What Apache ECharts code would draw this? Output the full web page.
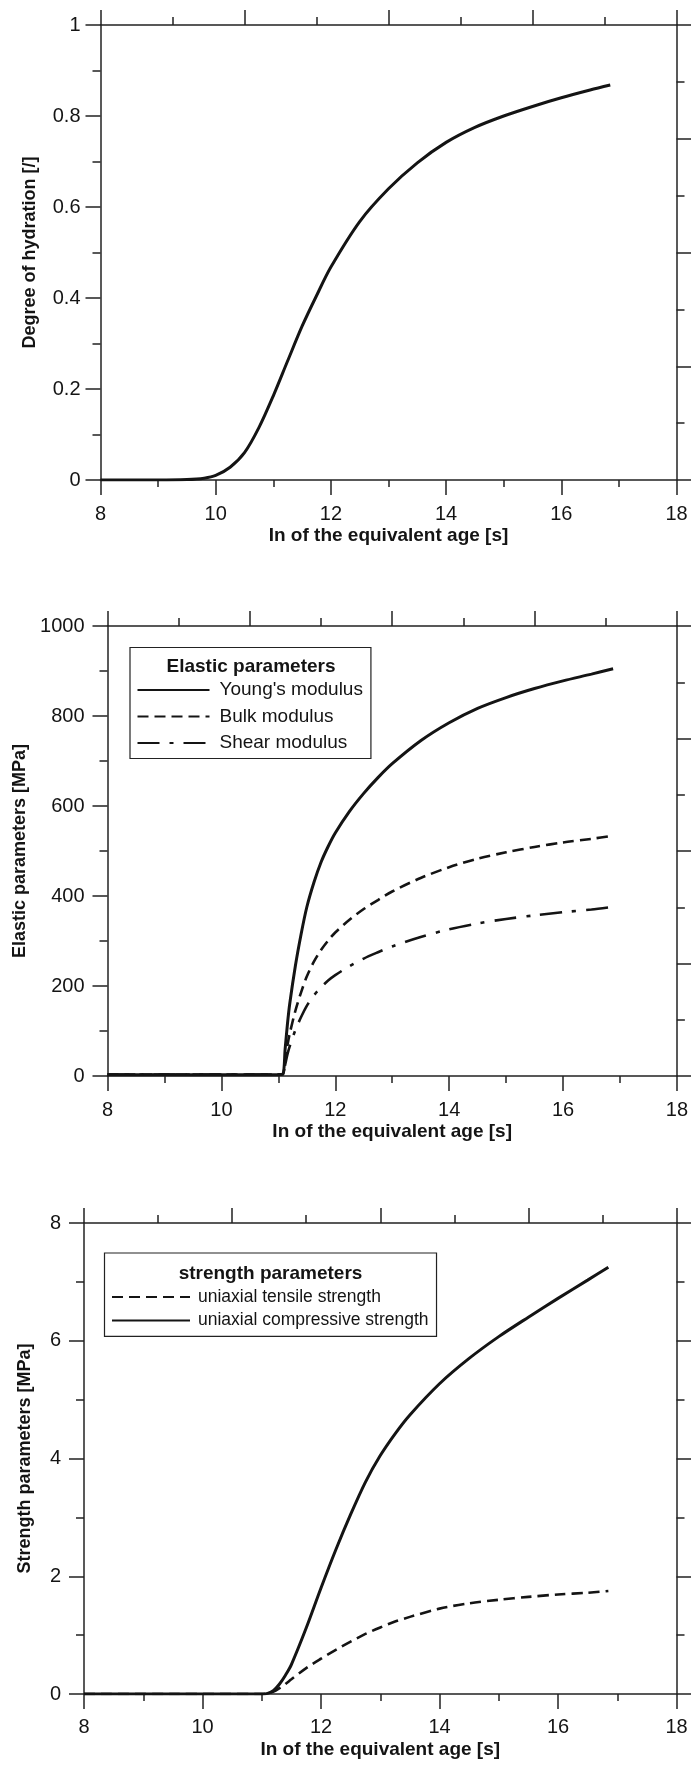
<!DOCTYPE html>
<html><head><meta charset="utf-8">
<script src="https://cdn.jsdelivr.net/npm/echarts@6/dist/echarts.min.js"></script>
<style>html,body{margin:0;padding:0;background:#fff}#c{width:691px;height:1765px}</style>
</head><body><div id="c"></div><script>
// ---------- data ----------
const xTicks = [8, 10, 12, 14, 16, 18];
const auxTicks = [0, 2, 4, 6, 8];            // unlabeled top / right scales
const hydTicks = [0, 0.2, 0.4, 0.6, 0.8, 1];
const elaTicks = [0, 200, 400, 600, 800, 1000];
const strTicks = [0, 2, 4, 6, 8];

const hydX = [8, 9, 9.5, 9.8, 10, 10.25, 10.5, 10.75, 11, 11.25, 11.5, 11.75, 12, 12.5, 13, 13.5, 14, 14.5, 15, 15.5, 16, 16.5, 16.85];
const hydY = [0, 0, 0.001, 0.004, 0.01, 0.028, 0.06, 0.115, 0.185, 0.262, 0.338, 0.405, 0.468, 0.568, 0.64, 0.697, 0.742, 0.775, 0.8, 0.821, 0.84, 0.857, 0.868];

const elaX = [8, 9.5, 11, 11.08, 11.12, 11.16, 11.2, 11.3, 11.4, 11.5, 11.625, 11.75, 11.875, 12, 12.25, 12.5, 12.75, 13, 13.5, 14, 14.5, 15, 15.5, 16, 16.5, 16.88];
const youngY = [3, 3, 3, 4, 60, 115, 160, 245, 315, 375, 430, 475, 510, 540, 588, 628, 663, 694, 745, 785, 817, 841, 861, 878, 893, 905];
const bulkY  = [3, 3, 3, 4, 35, 68, 94, 145, 186, 221, 254, 280, 301, 319, 347, 371, 391, 410, 440, 464, 483, 497, 509, 519, 527, 534];
const shearY = [3, 3, 3, 4, 25, 48, 66, 102, 131, 156, 179, 197, 212, 224, 244, 261, 275, 288, 309, 326, 339, 349, 357, 364, 370, 376];

const strX = [8, 9.5, 11, 11.1, 11.2, 11.3, 11.4, 11.5, 11.75, 12, 12.25, 12.5, 12.75, 13, 13.25, 13.5, 14, 14.5, 15, 15.5, 16, 16.5, 16.85];
const compY = [0, 0, 0, 0.01, 0.06, 0.17, 0.32, 0.5, 1.12, 1.8, 2.45, 3.05, 3.6, 4.05, 4.42, 4.74, 5.27, 5.7, 6.07, 6.4, 6.72, 7.03, 7.25];
const tensY = [0, 0, 0, 0.01, 0.04, 0.1, 0.17, 0.25, 0.44, 0.6, 0.75, 0.89, 1.02, 1.13, 1.23, 1.31, 1.45, 1.54, 1.6, 1.65, 1.69, 1.72, 1.75];

const xName = 'In of the equivalent age [s]';
const yNames = ['Degree of hydration [/]', 'Elastic parameters [MPa]', 'Strength parameters [MPa]'];
const elaNames = ["Young's modulus", 'Bulk modulus', 'Shear modulus'];
const strNames = ['uniaxial tensile strength', 'uniaxial compressive strength'];
const legendTitles = ['Elastic parameters', 'strength parameters'];

// ---------- styling ----------
const FONT = "'Liberation Sans', Arial, Helvetica, sans-serif";
const INK = '#141414';
const AX = '#222';
const lineSt = { color: AX, width: 1.5 };
const TICKFS = 20;

function pairs(xs, ys) { return xs.map((x, i) => [x, ys[i]]); }
function rng(t) { return { min: t[0], max: t[t.length - 1], interval: t[1] - t[0] }; }
const plain = v => String(v);

function xBottom(g, nameGap, margin) {
  return Object.assign({
    type: 'value', gridIndex: g, position: 'bottom',
    name: xName, nameLocation: 'middle', nameGap: nameGap,
    nameTextStyle: { fontFamily: FONT, fontSize: 19, fontWeight: 'bold', color: INK },
    axisLine: { show: true, onZero: false, lineStyle: lineSt },
    axisTick: { show: true, inside: false, length: 15, lineStyle: lineSt },
    minorTick: { show: true, splitNumber: 2, length: 7, lineStyle: lineSt },
    axisLabel: { margin: margin, fontFamily: FONT, fontSize: TICKFS, color: INK, showMinLabel: true, showMaxLabel: true, formatter: plain },
    splitLine: { show: false }, minorSplitLine: { show: false }
  }, rng(xTicks));
}
function xTop(g) {
  return Object.assign({
    type: 'value', gridIndex: g, position: 'top',
    axisLine: { show: true, onZero: false, lineStyle: lineSt },
    axisTick: { show: true, inside: false, length: 15, lineStyle: lineSt },
    minorTick: { show: true, splitNumber: 2, length: 8, lineStyle: lineSt },
    axisLabel: { show: false },
    splitLine: { show: false }, minorSplitLine: { show: false }
  }, rng(auxTicks));
}
function yLeft(g, ticks, name, nameGap, margin) {
  return Object.assign({
    type: 'value', gridIndex: g, position: 'left',
    name: name, nameLocation: 'middle', nameGap: nameGap, nameRotate: 90,
    nameTextStyle: { fontFamily: FONT, fontSize: 18, fontWeight: 'bold', color: INK },
    axisLine: { show: true, onZero: false, lineStyle: lineSt },
    axisTick: { show: true, inside: false, length: 15, lineStyle: lineSt },
    minorTick: { show: true, splitNumber: 2, length: 8, lineStyle: lineSt },
    axisLabel: { margin: margin, fontFamily: FONT, fontSize: TICKFS, color: INK, showMinLabel: true, showMaxLabel: true, formatter: plain },
    splitLine: { show: false }, minorSplitLine: { show: false }
  }, rng(ticks));
}
function yRight(g) {
  return Object.assign({
    type: 'value', gridIndex: g, position: 'right',
    axisLine: { show: true, onZero: false, lineStyle: lineSt },
    axisTick: { show: true, inside: false, length: 15, lineStyle: lineSt },
    minorTick: { show: true, splitNumber: 2, length: 8, lineStyle: lineSt },
    axisLabel: { show: false },
    splitLine: { show: false }, minorSplitLine: { show: false }
  }, rng(auxTicks));
}
function ser(name, xi, yi, data, width, type) {
  return {
    name: name, type: 'line', xAxisIndex: xi, yAxisIndex: yi, data: data,
    symbol: 'none', showSymbol: false, smooth: 0.3,
    lineStyle: { color: INK, width: width, type: type || 'solid', cap: 'butt' },
    itemStyle: { color: INK }, z: 5, silent: true
  };
}

const option = {
  animation: false,
  backgroundColor: '#fff',
  grid: [
    { left: 100.5, top: 25, right: 14.5, height: 455 },
    { left: 107.5, top: 626, right: 12.5, height: 450 },
    { left: 84, top: 1223, right: 14.5, height: 471 }
  ],
  xAxis: [xBottom(0, 46, 24), xTop(0), xBottom(1, 46, 24), xTop(1), xBottom(2, 46, 23), xTop(2)],
  yAxis: [yLeft(0, hydTicks, yNames[0], 61, 20), yRight(0),
          yLeft(1, elaTicks, yNames[1], 77, 23), yRight(1),
          yLeft(2, strTicks, yNames[2], 50, 23), yRight(2)],
  title: [
    { text: legendTitles[0], left: 251, top: 657, textAlign: 'center', padding: 0,
      textStyle: { fontFamily: FONT, fontSize: 19, fontWeight: 'bold', color: INK } },
    { text: legendTitles[1], left: 270.5, top: 1264, textAlign: 'center', padding: 0,
      textStyle: { fontFamily: FONT, fontSize: 19, fontWeight: 'bold', color: INK } }
  ],
  legend: [
    { data: elaNames, orient: 'vertical', left: 130, top: 647.5, padding: [33, 8, 6, 6.5],
      itemWidth: 72, itemHeight: 18, itemGap: 7.5, borderColor: AX, borderWidth: 1.2,
      itemStyle: { opacity: 0 },
      selectedMode: false, textStyle: { fontFamily: FONT, fontSize: 19, color: INK, padding: [0, 0, 0, 5] } },
    { data: strNames, orient: 'vertical', left: 104.5, top: 1253, padding: [35, 8, 7, 6.5],
      itemWidth: 78, itemHeight: 17, itemGap: 5.4, borderColor: AX, borderWidth: 1.2,
      itemStyle: { opacity: 0 },
      selectedMode: false, textStyle: { fontFamily: FONT, fontSize: 17.5, color: INK, padding: [0, 0, 0, 3] } }
  ],
  series: [
    ser('hydration', 0, 0, pairs(hydX, hydY), 3),
    ser(elaNames[0], 2, 2, pairs(elaX, youngY), 3),
    ser(elaNames[1], 2, 2, pairs(elaX, bulkY), 2.6, [11, 6]),
    ser(elaNames[2], 2, 2, pairs(elaX, shearY), 2.6, [22, 10, 4, 10]),
    ser(strNames[0], 4, 4, pairs(strX, tensY), 2.6, [11, 6]),
    ser(strNames[1], 4, 4, pairs(strX, compY), 3)
  ]
};

const chart = echarts.init(document.getElementById('c'), null, { renderer: 'canvas' });
chart.setOption(option);
</script></body></html>
